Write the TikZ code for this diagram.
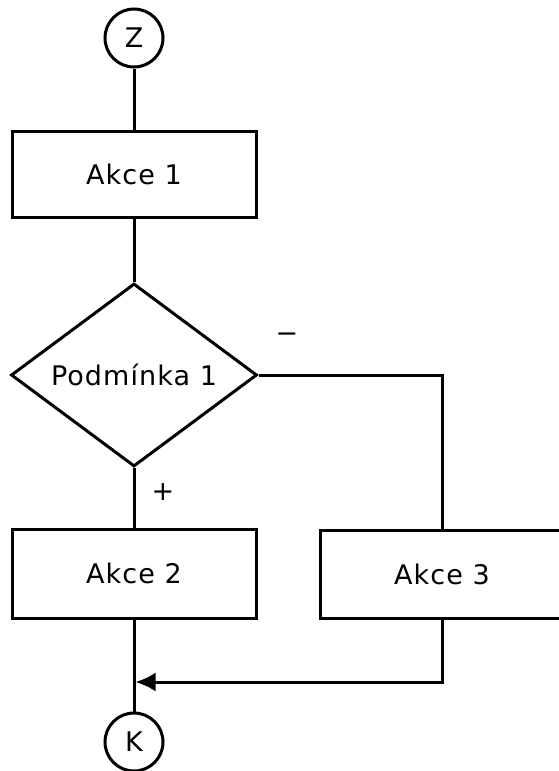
\documentclass[tikz,border=0pt]{standalone}
\usepackage{fontspec}
\setmainfont[LetterSpace=4]{DejaVu Sans}
\usetikzlibrary{shapes.geometric,arrows.meta}
\tikzset{flow/.style={line width=3pt}}
\tikzset{akce/.style={draw,flow,rectangle,minimum width=244pt,inner sep=0pt}}
\tikzset{konec/.style={draw,flow,circle,minimum size=58pt,inner sep=0pt}}
\tikzset{podminka/.style={draw,flow,diamond,aspect=1.34,minimum width=246pt,minimum height=183pt,inner sep=0pt}}
\tikzset{znak/.style={font=\fontsize{27}{32}\selectfont}}

\begin{document}
\begin{tikzpicture}[x=1pt,y=-1pt,every node/.style={znak}]
  \useasboundingbox (0,0) rectangle (558,771);

  \node[konec] (Z) at (134,38) {Z};
  \node[akce,minimum height=86pt] (akce1) at (134,174) {Akce 1};
  \node[podminka] (podm) at (134,375) {Podmínka 1};
  \node[akce,minimum height=89pt] (akce2) at (134,573.5) {Akce 2};
  \node[akce,minimum height=88pt] (akce3) at (442,574) {Akce 3};
  \node[konec] (K) at (134,742) {K};
  \coordinate (spoj) at (134,682);

  \draw[flow] (Z) -- (akce1);
  \draw[flow] (akce1) -- (podm);
  \draw[flow] (podm) -- (akce2);
  \draw[flow] (podm.east) -| (akce3.north);
  \draw[flow] (akce2) -- (K);
  \draw[flow,-{Latex[length=20pt,width=19pt]}] (akce3.south) |- ([xshift=1.5pt]spoj);

  \node (plus) at (163,492) {+};
  \node (minus) at (287,338) {−};
\end{tikzpicture}
\end{document}
